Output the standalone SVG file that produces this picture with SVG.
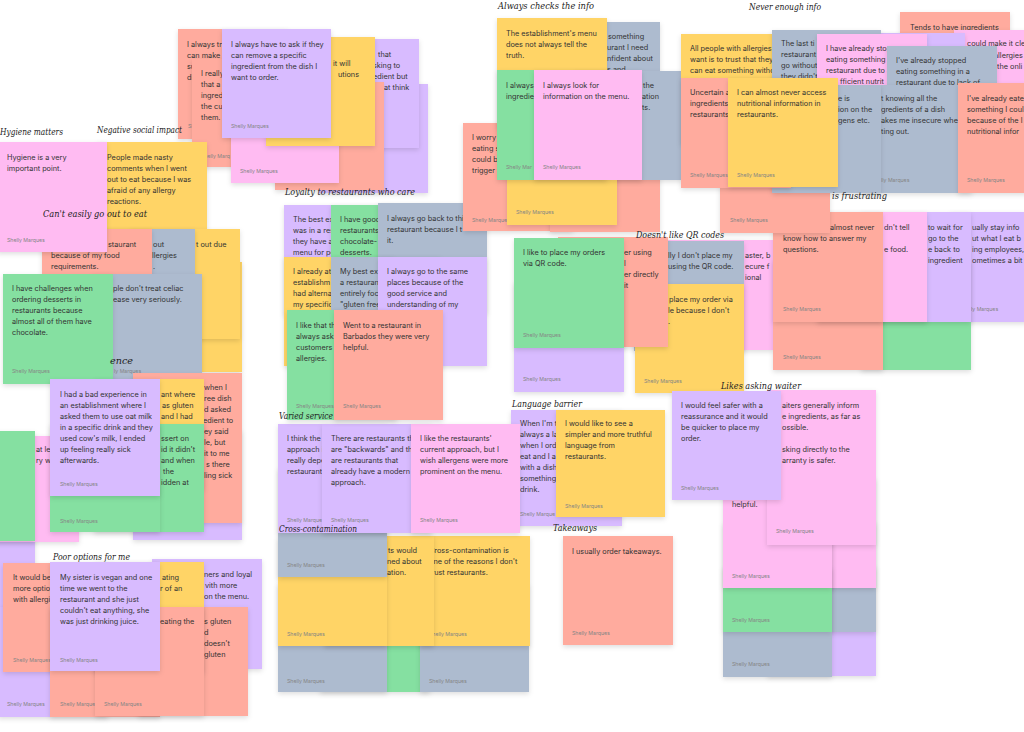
<svg xmlns="http://www.w3.org/2000/svg" width="1024" height="732" viewBox="0 0 1024 732">
<defs>
<filter id="sh" x="-15%" y="-15%" width="135%" height="140%"><feDropShadow dx="0" dy="2" stdDeviation="2.5" flood-color="#000" flood-opacity="0.13"/></filter>
<style>
rect{filter:url(#sh)}
.pk{fill:#FFBBF2}.yl{fill:#FFD466}.sa{fill:#FFAB9E}.pu{fill:#D8BBFF}.gr{fill:#85E0A1}.gy{fill:#ADBBCF}
.t{font-family:Inter,"Noto Sans",sans-serif;font-size:7.3px;fill:#333}
.a{font-family:Inter,"Noto Sans",sans-serif;font-size:5.2px;fill:#858585}
.lb{font-family:"DejaVu Serif",serif;font-style:italic;font-size:10px;fill:#222}
</style>
</defs>
<rect x="0" y="0" width="1024" height="732" fill="#fff" style="filter:none"/>

<!-- cluster A -->
<g id="n-a8"><rect class="pu" x="319" y="84" width="109" height="109"/></g>
<g id="n-a1"><rect class="sa" x="178" y="29" width="110" height="110"/><text class="t"><tspan x="187" y="47">I always tr</tspan><tspan x="187" y="58">can make</tspan><tspan x="187" y="69">su</tspan><tspan x="187" y="80">di</tspan></text><text class="a" x="188" y="128">Sh</text></g>
<g id="n-a2"><rect class="sa" x="192" y="59" width="110" height="108"/><text class="t"><tspan x="201" y="76">I really</tspan><tspan x="201" y="87">that a</tspan><tspan x="201" y="98">ingred</tspan><tspan x="201" y="109">the cu</tspan><tspan x="201" y="120">them.</tspan></text><text class="a" x="201" y="158">Shelly Marq</text></g>
<g id="n-a7"><rect class="pu" x="310" y="39" width="109" height="109"/><text class="t"><tspan x="378" y="57">that</tspan><tspan x="373" y="68">sking to</tspan><tspan x="373" y="79">edient but</tspan><tspan x="384" y="90">at think</tspan></text></g>
<g id="n-a6"><rect class="sa" x="275" y="82" width="109" height="108"/></g>
<g id="n-a4"><rect class="pk" x="231" y="74" width="108" height="109"/><text class="a" x="240" y="173">Shelly Marques</text></g>
<g id="n-a5"><rect class="yl" x="266" y="37" width="109" height="109"/><text class="t"><tspan x="333" y="66">it will</tspan><tspan x="338" y="77">utions</tspan></text></g>
<g id="n-a3"><rect class="pu" x="222" y="29" width="109" height="109"/><text class="t"><tspan x="231" y="47">I always have to ask if they</tspan><tspan x="231" y="58">can remove a specific</tspan><tspan x="231" y="69">ingredient from the dish I</tspan><tspan x="231" y="80">want to order.</tspan></text><text class="a" x="231" y="128">Shelly Marques</text></g>

<!-- left edge -->
<g id="n-d3"><rect class="pu" x="-75" y="497" width="110" height="110"/></g>
<g id="n-d1"><rect class="pk" x="-31" y="436" width="110" height="106"/><text class="t"><tspan x="36" y="452">at lea</tspan><tspan x="36" y="463">ry w</tspan></text></g>
<g id="n-d0"><rect class="gr" x="-75" y="431" width="110" height="110"/></g>

<!-- cluster B / C -->
<g id="n-b2"><rect class="yl" x="97" y="142" width="110" height="110"/><text class="t"><tspan x="107" y="160">People made nasty</tspan><tspan x="107" y="171">comments when I went</tspan><tspan x="107" y="182">out to eat because I was</tspan><tspan x="107" y="193">afraid of any allergy</tspan><tspan x="107" y="204">reactions.</tspan></text></g>
<g id="n-c3b"><rect class="yl" x="132" y="262" width="110" height="110"/></g>
<g id="n-c3"><rect class="yl" x="130" y="229" width="110" height="110"/><text class="t" x="196" y="247">t out due</text></g>
<g id="n-c2"><rect class="gy" x="85" y="229" width="110" height="110"/><text class="t"><tspan x="153" y="247">out</tspan><tspan x="152" y="258">llergies</tspan><tspan x="153" y="269">.</tspan></text></g>
<g id="n-c1"><rect class="sa" x="42" y="229" width="110" height="110"/><text class="t"><tspan x="108" y="247">staurant</tspan><tspan x="51" y="258">because of my food</tspan><tspan x="51" y="269">requirements.</tspan></text></g>
<g id="n-b1"><rect class="pk" x="-3" y="142" width="110" height="110"/><text class="t"><tspan x="7" y="160">Hygiene is a very</tspan><tspan x="7" y="171">important point.</tspan></text><text class="a" x="7" y="242">Shelly Marques</text></g>
<g id="n-c5"><rect class="gy" x="92" y="274" width="110" height="110"/><text class="t"><tspan x="113" y="291">ple don't treat celiac</tspan><tspan x="113" y="302">ease very seriously.</tspan></text><text class="a" x="114" y="373">ly Marques</text></g>
<g id="n-c4"><rect class="gr" x="3" y="274" width="110" height="110"/><text class="t"><tspan x="12" y="291">I have challenges when</tspan><tspan x="12" y="302">ordering desserts in</tspan><tspan x="12" y="313">restaurants because</tspan><tspan x="12" y="324">almost all of them have</tspan><tspan x="12" y="335">chocolate.</tspan></text><text class="a" x="12" y="373">Shelly Marques</text></g>
<g id="n-c11"><rect class="pu" x="133" y="430" width="109" height="110"/></g>
<g id="n-c7"><rect class="sa" x="133" y="373" width="109" height="150"/><text class="t"><tspan x="204" y="390">when I</tspan><tspan x="204" y="401">ree dish</tspan><tspan x="204" y="412">d asked</tspan><tspan x="203" y="423">edient to</tspan><tspan x="204" y="434">ey said</tspan><tspan x="204" y="445">le, but</tspan><tspan x="204" y="456">it to me</tspan><tspan x="206" y="467">s there</tspan><tspan x="204" y="478">ling sick</tspan></text></g>
<g id="n-c8"><rect class="yl" x="95" y="379" width="109" height="110"/><text class="t"><tspan x="161" y="397">ant where</tspan><tspan x="162" y="408">as gluten</tspan><tspan x="161" y="419">and I had</tspan></text></g>
<g id="n-c9b"><rect class="gr" x="94" y="424" width="110" height="108"/><text class="t"><tspan x="161" y="441">ssert on</tspan><tspan x="161" y="452">id it didn't</tspan><tspan x="161" y="463">and when</tspan><tspan x="163" y="474">the</tspan><tspan x="161" y="485">idden at</tspan></text></g>
<g id="n-c9a"><rect class="gr" x="50" y="424" width="110" height="108"/><text class="a" x="60" y="523">Shelly Marques</text></g>
<g id="n-c10"><rect class="pu" x="50" y="379" width="110" height="117"/><text class="t"><tspan x="60" y="397">I had a bad experience in</tspan><tspan x="60" y="408">an establishment where I</tspan><tspan x="60" y="419">asked them to use oat milk</tspan><tspan x="60" y="430">in a specific drink and they</tspan><tspan x="60" y="441">used cow's milk, I ended</tspan><tspan x="60" y="452">up feeling really sick</tspan><tspan x="60" y="463">afterwards.</tspan></text><text class="a" x="60" y="486">Shelly Marques</text></g>

<!-- cluster E -->
<g id="n-e0"><rect class="pu" x="-2" y="607" width="110" height="110"/><text class="a" x="7" y="706">Shelly Marques</text></g>
<g id="n-e1"><rect class="sa" x="3" y="563" width="110" height="109"/><text class="t"><tspan x="13" y="580">It would be</tspan><tspan x="13" y="591">more optio</tspan><tspan x="13" y="602">with allergi</tspan></text><text class="a" x="13" y="662">Shelly Marques</text></g>
<g id="n-e5"><rect class="sa" x="50" y="607" width="110" height="110"/><text class="a" x="60" y="706">Shelly Marque</text></g>
<g id="n-e6"><rect class="pu" x="152" y="559" width="110" height="110"/><text class="t"><tspan x="204" y="577">ners and loyal</tspan><tspan x="205" y="588">vith more</tspan><tspan x="204" y="599">on the menu.</tspan></text></g>
<g id="n-e7"><rect class="sa" x="138" y="607" width="110" height="109"/><text class="t"><tspan x="204" y="624">s gluten</tspan><tspan x="204" y="635">d</tspan><tspan x="204" y="646">doesn't</tspan><tspan x="204" y="657">gluten</tspan></text></g>
<g id="n-e3"><rect class="yl" x="95" y="562" width="109" height="110"/><text class="t"><tspan x="162" y="580">ating</tspan><tspan x="160" y="591">r of an</tspan></text></g>
<g id="n-e4"><rect class="sa" x="95" y="607" width="109" height="109"/><text class="t" x="160" y="624">eating the</text><text class="a" x="104" y="706">Shelly Marques</text></g>
<g id="n-e2"><rect class="pu" x="50" y="562" width="110" height="109"/><text class="t"><tspan x="60" y="580">My sister is vegan and one</tspan><tspan x="60" y="591">time we went to the</tspan><tspan x="60" y="602">restaurant and she just</tspan><tspan x="60" y="613">couldn't eat anything, she</tspan><tspan x="60" y="624">was just drinking juice.</tspan></text><text class="a" x="60" y="662">Shelly Marques</text></g>

<!-- cluster H -->
<g id="n-h6"><rect class="gr" x="320" y="584" width="110" height="108"/></g>
<g id="n-h7"><rect class="gy" x="420" y="584" width="109" height="108"/><text class="a" x="429" y="683">Shelly Marques</text></g>
<g id="n-h5"><rect class="gy" x="278" y="584" width="109" height="108"/><text class="a" x="287" y="683">Shelly Marques</text></g>
<g id="n-h4"><rect class="yl" x="420" y="536" width="110" height="110"/><text class="t"><tspan x="429" y="553">Cross-contamination is</tspan><tspan x="429" y="564">one of the reasons I don't</tspan><tspan x="429" y="575">trust restaurants.</tspan></text><text class="a" x="429" y="636">Shelly Marques</text></g>
<g id="n-h3"><rect class="yl" x="324" y="536" width="110" height="110"/><text class="t"><tspan x="388" y="553">ts would</tspan><tspan x="387" y="564">ned about</tspan><tspan x="387" y="575">ation.</tspan></text></g>
<g id="n-h2"><rect class="yl" x="278" y="537" width="109" height="109"/><text class="a" x="287" y="636">Shelly Marques</text></g>
<g id="n-h1"><rect class="gy" x="278" y="468" width="109" height="109"/><text class="a" x="287" y="567">Shelly Marques</text></g>

<!-- cluster M -->
<g id="n-m1"><rect class="pu" x="511" y="410" width="111" height="116"/><text class="t"><tspan x="520" y="426">When I'm t</tspan><tspan x="520" y="437">always a la</tspan><tspan x="520" y="448">when I ord</tspan><tspan x="520" y="459">eat and I a</tspan><tspan x="520" y="470">with a dish</tspan><tspan x="520" y="481">something</tspan><tspan x="520" y="492">drink.</tspan></text><text class="a" x="520" y="516">Shelly Marque</text></g>
<g id="n-m3"><rect class="yl" x="556" y="410" width="109" height="107"/><text class="t"><tspan x="565" y="426">I would like to see a</tspan><tspan x="565" y="437">simpler and more truthful</tspan><tspan x="565" y="448">language from</tspan><tspan x="565" y="459">restaurants.</tspan></text><text class="a" x="565" y="508">Shelly Marques</text></g>

<!-- cluster G -->
<g id="n-g1"><rect class="pu" x="278" y="424" width="110" height="109"/><text class="t"><tspan x="287" y="441">I think the</tspan><tspan x="287" y="452">approach i</tspan><tspan x="287" y="463">really depe</tspan><tspan x="287" y="474">restaurant</tspan></text><text class="a" x="287" y="522">Shelly Marque</text></g>
<g id="n-g2"><rect class="pu" x="322" y="424" width="110" height="109"/><text class="t"><tspan x="331" y="441">There are restaurants th</tspan><tspan x="331" y="452">are "backwards" and th</tspan><tspan x="331" y="463">are restaurants that</tspan><tspan x="331" y="474">already have a modern</tspan><tspan x="331" y="485">approach.</tspan></text><text class="a" x="331" y="522">Shelly Marques</text></g>
<g id="n-g3"><rect class="pk" x="411" y="424" width="109" height="109"/><text class="t"><tspan x="420" y="441">I like the restaurants'</tspan><tspan x="420" y="452">current approach, but I</tspan><tspan x="420" y="463">wish allergens were more</tspan><tspan x="420" y="474">prominent on the menu.</tspan></text><text class="a" x="420" y="522">Shelly Marques</text></g>

<!-- cluster F -->
<g id="n-f1"><rect class="pu" x="284" y="205" width="110" height="110"/><text class="t"><tspan x="293" y="222">The best ex</tspan><tspan x="293" y="233">was in a res</tspan><tspan x="293" y="244">they have a</tspan><tspan x="293" y="255">menu for pe</tspan></text></g>
<g id="n-f2"><rect class="gr" x="331" y="205" width="110" height="110"/><text class="t"><tspan x="340" y="222">I have good</tspan><tspan x="340" y="233">restaurants</tspan><tspan x="340" y="244">chocolate-</tspan><tspan x="340" y="255">desserts.</tspan></text></g>
<g id="n-f3"><rect class="gy" x="378" y="203" width="109" height="110"/><text class="t"><tspan x="387" y="221">I always go back to this</tspan><tspan x="387" y="232">restaurant because I t</tspan><tspan x="387" y="243">it.</tspan></text></g>
<g id="n-f4"><rect class="yl" x="284" y="257" width="110" height="109"/><text class="t"><tspan x="293" y="274">I already at</tspan><tspan x="293" y="285">establishm</tspan><tspan x="293" y="296">had alterna</tspan><tspan x="293" y="307">my specific</tspan></text></g>
<g id="n-f5"><rect class="gy" x="331" y="257" width="110" height="110"/><text class="t"><tspan x="340" y="274">My best ex</tspan><tspan x="340" y="285">a restauran</tspan><tspan x="340" y="296">entirely foc</tspan><tspan x="340" y="307">"gluten free</tspan></text></g>
<g id="n-f6"><rect class="pu" x="378" y="257" width="109" height="109"/><text class="t"><tspan x="387" y="274">I always go to the same</tspan><tspan x="387" y="285">places because of the</tspan><tspan x="387" y="296">good service and</tspan><tspan x="387" y="307">understanding of my</tspan></text></g>
<g id="n-f7"><rect class="gr" x="287" y="310" width="110" height="110"/><text class="t"><tspan x="296" y="328">I like that th</tspan><tspan x="296" y="339">always ask</tspan><tspan x="296" y="350">customers</tspan><tspan x="296" y="361">allergies.</tspan></text><text class="a" x="296" y="408">Shelly Marques</text></g>
<g id="n-f8"><rect class="sa" x="334" y="310" width="109" height="110"/><text class="t"><tspan x="343" y="328">Went to a restaurant in</tspan><tspan x="343" y="339">Barbados they were very</tspan><tspan x="343" y="350">helpful.</tspan></text><text class="a" x="343" y="408">Shelly Marques</text></g>

<!-- cluster I -->
<g id="n-i7"><rect class="sa" x="463" y="123" width="110" height="108"/><text class="t"><tspan x="472" y="140">I worry a</tspan><tspan x="472" y="151">eating s</tspan><tspan x="472" y="162">could be</tspan><tspan x="472" y="173">trigger f</tspan></text><text class="a" x="472" y="222">Shelly Marque</text></g>
<g id="n-i8"><rect class="sa" x="550" y="122" width="110" height="110"/></g>
<g id="n-i2"><rect class="gy" x="550" y="22" width="110" height="110"/><text class="t"><tspan x="608" y="39">something</tspan><tspan x="607" y="50">urant I need</tspan><tspan x="607" y="61">nfident about</tspan><tspan x="607" y="72">s and</tspan></text></g>
<g id="n-i1"><rect class="yl" x="497" y="18" width="110" height="110"/><text class="t"><tspan x="506" y="36">The establishment's menu</tspan><tspan x="506" y="47">does not always tell the</tspan><tspan x="506" y="58">truth.</tspan></text></g>
<g id="n-i3"><rect class="gy" x="575" y="71" width="109" height="109"/><text class="t"><tspan x="643" y="88">the</tspan><tspan x="642" y="99">ation</tspan><tspan x="642" y="110">ts.</tspan></text></g>
<g id="n-i6"><rect class="yl" x="507" y="115" width="110" height="110"/><text class="a" x="516" y="214">Shelly Marques</text></g>
<g id="n-i4"><rect class="gr" x="497" y="70" width="110" height="110"/><text class="t"><tspan x="506" y="88">I always</tspan><tspan x="506" y="99">ingredie</tspan></text><text class="a" x="506" y="169">Shelly Mar</text></g>
<g id="n-i5"><rect class="pk" x="534" y="70" width="108" height="110"/><text class="t"><tspan x="543" y="88">I always look for</tspan><tspan x="543" y="99">information on the menu.</tspan></text><text class="a" x="543" y="169">Shelly Marques</text></g>

<!-- cluster L -->
<g id="n-l1"><rect class="pk" x="664" y="240" width="110" height="110"/><text class="t"><tspan x="745" y="258">aster, b</tspan><tspan x="745" y="269">ecure f</tspan><tspan x="745" y="280">ional</tspan></text></g>
<g id="n-l5"><rect class="gy" x="634" y="241" width="110" height="110"/><text class="t"><tspan x="668" y="258">lly I don't place my</tspan><tspan x="668" y="269">using the QR code.</tspan></text></g>
<g id="n-l6"><rect class="yl" x="635" y="284" width="109" height="109"/><text class="t"><tspan x="669" y="302">place my order via</tspan><tspan x="668" y="313">le because I don't</tspan><tspan x="668" y="324">.</tspan></text><text class="a" x="644" y="383">Shelly Marques</text></g>
<g id="n-l4"><rect class="sa" x="558" y="237" width="110" height="110"/><text class="t"><tspan x="624" y="255">er using</tspan><tspan x="624" y="266">l</tspan><tspan x="624" y="277">er directly</tspan><tspan x="624" y="288">it</tspan></text></g>
<g id="n-l3"><rect class="pu" x="514" y="282" width="110" height="110"/><text class="a" x="523" y="381">Shelly Marques</text></g>
<g id="n-l2"><rect class="gr" x="514" y="238" width="110" height="110"/><text class="t"><tspan x="523" y="255">I like to place my orders</tspan><tspan x="523" y="266">via QR code.</tspan></text><text class="a" x="523" y="337">Shelly Marques</text></g>

<!-- cluster K -->
<g id="n-k4"><rect class="pu" x="950" y="212" width="110" height="110"/><text class="t"><tspan x="972" y="230">ually stay info</tspan><tspan x="972" y="241">ut what I eat b</tspan><tspan x="972" y="252">ing employees,</tspan><tspan x="972" y="263">ometimes a bit</tspan></text><text class="a" x="971" y="311">ly Marques</text></g>
<g id="n-k5"><rect class="gr" x="861" y="260" width="110" height="110"/></g>
<g id="n-k3"><rect class="pu" x="861" y="212" width="110" height="110"/><text class="t"><tspan x="928" y="230">to wait for</tspan><tspan x="928" y="241">go to the</tspan><tspan x="928" y="252">e back to</tspan><tspan x="928" y="263">ingredient</tspan></text></g>
<g id="n-k6"><rect class="sa" x="773" y="260" width="110" height="110"/><text class="a" x="783" y="359">Shelly Marques</text></g>
<g id="n-k2"><rect class="pk" x="817" y="212" width="110" height="110"/><text class="t"><tspan x="884" y="230">dn't tell</tspan><tspan x="884" y="252">e food.</tspan></text></g>
<g id="n-k1"><rect class="sa" x="773" y="212" width="110" height="110"/><text class="t"><tspan x="830" y="230">almost never</tspan><tspan x="783" y="241">know how to answer my</tspan><tspan x="783" y="252">questions.</tspan></text><text class="a" x="783" y="311">Shelly Marques</text></g>

<!-- cluster J -->
<g id="n-j1"><rect class="yl" x="681" y="34" width="110" height="110"/><text class="t"><tspan x="690" y="51">All people with allergies</tspan><tspan x="690" y="62">want is to trust that they</tspan><tspan x="690" y="73">can eat something witho</tspan></text></g>
<g id="n-j11"><rect class="sa" x="900" y="12" width="110" height="110"/><text class="t" x="910" y="30">Tends to have ingredients</text></g>
<g id="n-j10"><rect class="pk" x="954" y="30" width="110" height="110"/><text class="t"><tspan x="963" y="46">I could make it cle</tspan><tspan x="994" y="58">allergies</tspan><tspan x="997" y="69">the onli</tspan></text></g>
<g id="n-j9"><rect class="pu" x="855" y="33" width="110" height="110"/></g>
<g id="n-j5"><rect class="gy" x="772" y="30" width="109" height="110"/><text class="t"><tspan x="781" y="46">The last ti</tspan><tspan x="781" y="57">restaurant</tspan><tspan x="781" y="68">go without</tspan><tspan x="781" y="79">they didn't</tspan></text></g>
<g id="n-j7"><rect class="pk" x="817" y="34" width="110" height="110"/><text class="t"><tspan x="826" y="51">I have already stop</tspan><tspan x="826" y="62">eating something</tspan><tspan x="826" y="73">restaurant due to a</tspan><tspan x="840" y="84">fficient nutrit</tspan></text></g>
<g id="n-j8"><rect class="gy" x="887" y="46" width="110" height="110"/><text class="t"><tspan x="896" y="63">I've already stopped</tspan><tspan x="896" y="74">eating something in a</tspan><tspan x="896" y="85">restaurant due to lack of</tspan></text></g>
<g id="n-j12"><rect class="gy" x="862" y="85" width="110" height="108"/><text class="t"><tspan x="881" y="101">t knowing all the</tspan><tspan x="881" y="112">gredients of a dish</tspan><tspan x="881" y="123">akes me insecure when</tspan><tspan x="881" y="134">ting out.</tspan></text><text class="a" x="881" y="182">lly Marques</text></g>
<g id="n-j13"><rect class="sa" x="958" y="83" width="110" height="110"/><text class="t"><tspan x="967" y="101">I've already eate</tspan><tspan x="967" y="112">something I coul</tspan><tspan x="967" y="123">because of the l</tspan><tspan x="967" y="134">nutritional infor</tspan></text><text class="a" x="967" y="182">Shelly Marques</text></g>
<g id="n-j4"><rect class="sa" x="720" y="123" width="110" height="110"/><text class="a" x="730" y="222">Shelly Marques</text></g>
<g id="n-j6"><rect class="gy" x="772" y="85" width="109" height="108"/><text class="t"><tspan x="838" y="101">e is</tspan><tspan x="838" y="112">ion on the</tspan><tspan x="838" y="123">gens etc.</tspan></text></g>
<g id="n-j2"><rect class="sa" x="681" y="78" width="110" height="110"/><text class="t"><tspan x="690" y="95">Uncertain a</tspan><tspan x="690" y="106">ingredients</tspan><tspan x="690" y="117">restaurants</tspan></text><text class="a" x="690" y="177">Shelly Marques</text></g>
<g id="n-j3"><rect class="yl" x="728" y="78" width="110" height="109"/><text class="t"><tspan x="737" y="95">I can almost never access</tspan><tspan x="737" y="106">nutritional information in</tspan><tspan x="737" y="117">restaurants.</tspan></text><text class="a" x="737" y="177">Shelly Marques</text></g>

<!-- cluster N -->
<g id="n-n8"><rect class="pu" x="767" y="566" width="109" height="110"/></g>
<g id="n-n6"><rect class="gy" x="767" y="522" width="109" height="110"/></g>
<g id="n-n4"><rect class="pk" x="767" y="478" width="109" height="110"/></g>
<g id="n-n7"><rect class="gy" x="723" y="567" width="109" height="110"/><text class="a" x="732" y="666">Shelly Marques</text></g>
<g id="n-n5"><rect class="gr" x="723" y="523" width="109" height="109"/><text class="a" x="732" y="622">Shelly Marques</text></g>
<g id="n-n3"><rect class="pk" x="723" y="420" width="109" height="168"/><text class="t" x="732" y="507">helpful.</text><text class="a" x="732" y="578">Shelly Marques</text></g>
<g id="n-n2"><rect class="pk" x="767" y="390" width="109" height="155"/><text class="t"><tspan x="782" y="408">aiters generally inform</tspan><tspan x="782" y="419">e ingredients, as far as</tspan><tspan x="782" y="430">ossible.</tspan><tspan x="782" y="452">sking directly to the</tspan><tspan x="782" y="463">arranty is safer.</tspan></text><text class="a" x="776" y="533">Shelly Marques</text></g>
<g id="n-n1"><rect class="pu" x="672" y="391" width="109" height="109"/><text class="t"><tspan x="681" y="408">I would feel safer with a</tspan><tspan x="681" y="419">reassurance and it would</tspan><tspan x="681" y="430">be quicker to place my</tspan><tspan x="681" y="441">order.</tspan></text><text class="a" x="681" y="490">Shelly Marques</text></g>

<!-- takeaways -->
<g id="n-t1"><rect class="sa" x="563" y="536" width="110" height="109"/><text class="t" x="572" y="554">I usually order takeaways.</text><text class="a" x="572" y="635">Shelly Marques</text></g>

<!-- labels -->
<g id="labels">
<text class="lb" x="0" y="135" textLength="63" lengthAdjust="spacingAndGlyphs">Hygiene matters</text>
<text class="lb" x="97" y="133" textLength="85" lengthAdjust="spacingAndGlyphs">Negative social impact</text>
<text class="lb" x="43" y="217" textLength="104" lengthAdjust="spacingAndGlyphs">Can't easily go out to eat</text>
<text class="lb" x="285" y="195" textLength="130" lengthAdjust="spacingAndGlyphs">Loyalty to restaurants who care</text>
<text class="lb" x="498" y="9" textLength="96" lengthAdjust="spacingAndGlyphs">Always checks the info</text>
<text class="lb" x="749" y="10" textLength="72" lengthAdjust="spacingAndGlyphs">Never enough info</text>
<text class="lb" x="832" y="199" textLength="55" lengthAdjust="spacingAndGlyphs">is frustrating</text>
<text class="lb" x="636" y="238" textLength="88" lengthAdjust="spacingAndGlyphs">Doesn't like QR codes</text>
<text class="lb" x="110" y="364" textLength="23" lengthAdjust="spacingAndGlyphs">ence</text>
<text class="lb" x="279" y="419" textLength="54" lengthAdjust="spacingAndGlyphs">Varied service</text>
<text class="lb" x="512" y="407" textLength="70" lengthAdjust="spacingAndGlyphs">Language barrier</text>
<text class="lb" x="721" y="389" textLength="80" lengthAdjust="spacingAndGlyphs">Likes asking waiter</text>
<text class="lb" x="553" y="531" textLength="44" lengthAdjust="spacingAndGlyphs">Takeaways</text>
<text class="lb" x="279" y="532" textLength="78" lengthAdjust="spacingAndGlyphs">Cross-contamination</text>
<text class="lb" x="53" y="560" textLength="77" lengthAdjust="spacingAndGlyphs">Poor options for me</text>
</g>
<g id="connectors"/>
</svg>
